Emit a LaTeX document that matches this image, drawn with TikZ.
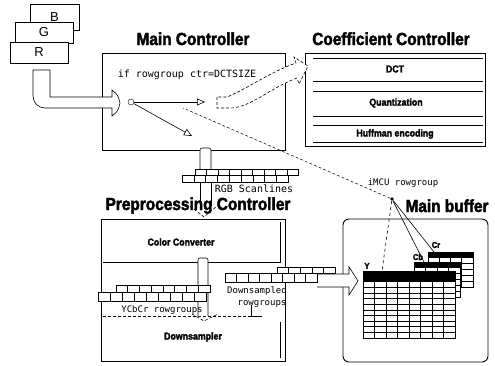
\documentclass[tikz,border=0pt]{standalone}
\usepackage{fontspec}
\setmainfont{Liberation Sans}
\newfontfamily\headfont{Liberation Sans}[FakeStretch=0.88, FakeBold=2.2]
\newfontfamily\codefont{DejaVu Sans Mono}
\usetikzlibrary{arrows.meta,positioning}

\begin{document}
\begin{tikzpicture}[
    x=1pt, y=-1pt,
    ctrlbox/.style={draw, line width=0.6pt, inner sep=0pt, outer sep=0pt},
    headtitle/.style={font=\headfont\bfseries\fontsize{17.5}{17.5}\selectfont, anchor=base, inner sep=0pt},
    bandtext/.style={font=\headfont\bfseries\fontsize{10}{10}\selectfont, inner sep=0pt},
    tablabel/.style={font=\headfont\bfseries\fontsize{8.5}{8.5}\selectfont, inner sep=0pt},
    codetext/.style={font=\codefont\fontsize{9}{9}\selectfont, inner sep=0pt},
    plane/.style={draw, fill=white, line width=0.6pt, inner sep=0pt, font=\fontsize{13}{13}\selectfont},
    cell/.style={draw, fill=white, line width=0.6pt},
    hollow/.style={draw, fill=white, line width=0.6pt},
    gridline/.style={line width=0.9pt},
    link/.style={line width=0.6pt, -{Triangle[open, length=8pt, width=7pt]}}
]
\useasboundingbox (0,0) rectangle (495,365);

% RGB input planes
\node[plane, minimum width=49, minimum height=26] (bplane) at (54.5,17) {B};
\node[plane, minimum width=58, minimum height=21] (gplane) at (44,32.5) {G};
\node[plane, minimum width=58, minimum height=21] (rplane) at (39,52.5) {R};

% controller boxes
\node[ctrlbox, minimum width=183, minimum height=97] (mainctrl) at (193.5,101.5) {};
\node[ctrlbox, minimum width=180, minimum height=93] (coefctrl) at (395,99.5) {};
\node[ctrlbox, minimum width=184, minimum height=142] (prectrl) at (193,290) {};
\node[ctrlbox, rounded corners=6pt, line width=0.9pt, minimum width=145, minimum height=143] (mainbuf) at (415.5,290.5) {};

\node[headtitle] (mainttl) at (193,45) {Main Controller};
\node[headtitle] (coefttl) at (391,45) {Coefficient Controller};
\node[headtitle] (prettl) at (198,210) {Preprocessing Controller};
\node[headtitle] (bufttl) at (447,212) {Main buffer};

% input arrow into the main controller
\draw[hollow] (50,70) -- (33,70) -- (33,96) to[out=-90, in=180] (45,108) -- (112,108)
    -- (112,116) .. controls (118,111) .. (120,103) .. controls (118,95) .. (112,90)
    -- (112,97) -- (50,97) -- cycle;

% main controller contents
\node[codetext, font=\codefont\fontsize{10}{10}\selectfont] (cond) at (187,75) {if rowgroup ctr=DCTSIZE};
\node[circle, draw, fill=white, inner sep=0pt, minimum size=6pt] (src) at (131,102) {};
\coordinate (hit) at (205,102);
\coordinate (miss) at (192,136);
\draw[link] (src) -- (hit);
\draw[link] (src) -- (miss);

% bent arrow to the coefficient controller
\draw[hollow, densely dashed] (217,97) -- (217,108) -- (230,108)
    .. controls (250,108) and (270,88) .. (297,78) -- (299,84) -- (308,66)
    -- (294,57) -- (296,63) .. controls (270,72) and (245,90) .. (227,97) -- cycle;

% coefficient controller stages
\foreach \yy in {58,81,91,116,125,142}
    \draw[line width=0.6pt] (313,\yy) -- (483,\yy);
\node[bandtext] (dct) at (395,69) {DCT};
\node[bandtext] (quant) at (396,103) {Quantization};
\node[bandtext] (huff) at (395,134) {Huffman encoding};

% RGB scanlines between main and preprocessing controller
\draw[hollow, rounded corners=2pt] (200,170) |- (211,148) -- (211,170);
\draw[line width=0.6pt] (200,182) -- (200,206);
\draw[line width=0.6pt] (211,182) -- (211,206);
\draw[densely dashed, line width=0.6pt] (190,206) -- (204,217) -- (217,206);
\foreach \i in {0,...,8}
    \draw[cell] ({195+11.5*\i},169) rectangle ++(11.5,6);
\foreach \i in {0,...,8}
    \draw[cell] ({182+11.8*\i},175) rectangle ++(11.8,7);
\node[codetext, font=\codefont\fontsize{10}{10}\selectfont] (rgbscan) at (254,189) {RGB Scanlines};

% preprocessing controller contents
\draw[line width=0.6pt] (103,262) -- (280,262) -- (280,222);
\draw[densely dashed, line width=0.4pt] (103,316) -- (251,316);
\draw[line width=0.6pt] (251,305) -- (251,316) -- (262,316);
\draw[line width=0.6pt] (280,322) -- (280,358);
\node[bandtext] (colconv) at (181,242) {Color Converter};
\node[bandtext] (downsamp) at (193,337) {Downsampler};

\draw[hollow, rounded corners=2pt] (198,316) |- (208,258) -- (208,316);
\draw[densely dashed, line width=0.6pt] (192,314) -- (204,321) -- (218,314);

% YCbCr rowgroups
\foreach \i in {0,...,7}
    \draw[cell] ({116+11.75*\i},285) rectangle ++(11.75,7);
\foreach \i in {0,...,8}
    \draw[cell] ({98+12*\i},292) rectangle ++(12,9);
\node[codetext] (ycc) at (162,310) {YCbCr rowgroups};

% downsampled rowgroups and arrow into the main buffer
\draw[hollow] (317,274) -- (349,274) -- (349,267) .. controls (353,273) .. (358,281)
    .. controls (353,288) .. (349,295) -- (349,287) -- (317,287);
\foreach \i in {0,...,4}
    \draw[cell] ({277+11.6*\i},267) rectangle ++(11.6,6);
\foreach \i in {0,...,7}
    \draw[cell] ({225+11.5*\i},273) rectangle ++(11.5,9);
\node[codetext] (dsamp) at (257,291) {Downsampled};
\node[codetext] (dsrows) at (262,304) {rowgroups};

% iMCU rowgroup pointer
\node[circle, fill, inner sep=1.3pt] (imcu) at (392,199) {};
\node[codetext] (imculbl) at (403,183) {iMCU rowgroup};
\coordinate (mcuend) at (183,108);
\coordinate (ytop) at (382,271);
\coordinate (cbtop) at (424,262);
\coordinate (crtop) at (434,252);
\draw[densely dashed, line width=0.5pt] (imcu) -- (mcuend);
\draw[dashed, line width=0.6pt] (imcu) -- (ytop);
\draw[line width=0.6pt] (imcu) -- (cbtop);
\draw[line width=0.6pt] (imcu) -- (crtop);

% component tables: Cr, Cb, Y
\fill[white] (428,252) rectangle (473,287);
\fill[black] (428,252) rectangle (473,258);
\draw[gridline] (428,252) rectangle (473,287);
\foreach \i in {1,...,3} \draw[gridline] ({428+11.25*\i},258) -- ({428+11.25*\i},287);
\foreach \j in {1,...,4} \draw[gridline] (428,{258+5.8*\j}) -- (473,{258+5.8*\j});

\fill[white] (414,262) rectangle (460,297);
\fill[black] (414,262) rectangle (460,268);
\draw[gridline] (414,262) rectangle (460,297);
\foreach \i in {1,...,3} \draw[gridline] ({414+11.5*\i},268) -- ({414+11.5*\i},297);
\foreach \j in {1,...,4} \draw[gridline] (414,{268+5.8*\j}) -- (460,{268+5.8*\j});

\fill[white] (363,271) rectangle (455,338);
\fill[black] (363,271) rectangle (455,282);
\draw[gridline] (363,271) rectangle (455,338);
\foreach \i in {1,...,7} \draw[gridline] ({363+11.5*\i},282) -- ({363+11.5*\i},338);
\foreach \j in {1,...,9} \draw[gridline] (363,{282+5.6*\j}) -- (455,{282+5.6*\j});

\node[tablabel] (crlbl) at (436,245) {Cr};
\node[tablabel] (cblbl) at (418,257) {Cb};
\node[tablabel] (ylbl) at (367,266) {Y};

\end{tikzpicture}
\end{document}
